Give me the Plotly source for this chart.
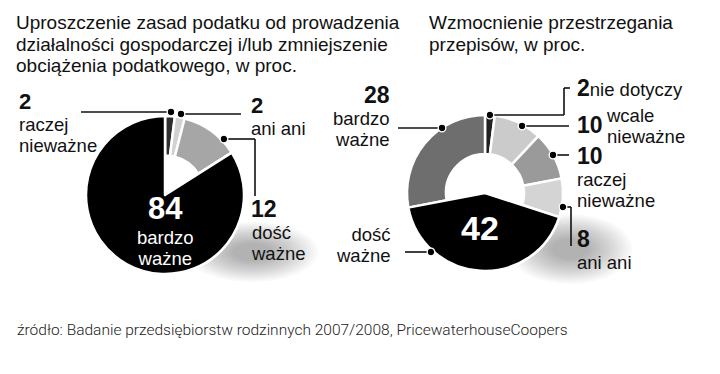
import plotly.graph_objects as go

W, H = 720, 374

# ---- data ----
left_title = ["Uproszczenie zasad podatku od prowadzenia",
              "działalności gospodarczej i/lub zmniejszenie",
              "obciążenia podatkowego, w proc."]
left_labels = ["raczej nieważne", "ani ani", "dość ważne", "bardzo ważne"]
left_values = [2, 2, 12, 84]
left_colors = ["#2e2e2e", "#d2d2d2", "#a6a6a6", "#000000"]

right_title = ["Wzmocnienie przestrzegania", "przepisów, w proc."]
right_labels = ["nie dotyczy", "wcale nieważne", "raczej nieważne", "ani ani",
                "dość ważne", "bardzo ważne"]
right_values = [2, 10, 10, 8, 42, 28]
right_colors = ["#222222", "#cbcbcb", "#9a9a9a", "#d4d4d4", "#000000", "#6e6e6e"]

source = "źródło: Badanie przedsiębiorstw rodzinnych 2007/2008, PricewaterhouseCoopers"

FONT = "'Liberation Sans', Arial, sans-serif"
ASC, DESC = 0.905, 0.212          # Liberation Sans metrics
SRC_FONT = "Roboto, 'Noto Sans', sans-serif"
R_ASC, R_DESC = 0.928, 0.244      # Roboto metrics


def px(x):
    return x / W


def py(y):
    return 1 - y / H


def domain(cx, cy, r):
    return dict(x=[px(cx - r), px(cx + r)], y=[py(cy + r), py(cy - r)])


fig = go.Figure()


def add_pie(values, labels, colors, cx, cy, r, full_idx):
    dom = domain(cx, cy, r)
    fig.add_trace(go.Pie(values=values, labels=labels, sort=False,
                         direction="clockwise", rotation=0, hole=0.5,
                         domain=dom, textinfo="none", hoverinfo="label+value",
                         marker=dict(colors=colors, line=dict(color="white", width=2.5)),
                         showlegend=False))
    cols = [c if i == full_idx else "rgba(0,0,0,0)" for i, c in enumerate(colors)]
    lw = [2.5 if i == full_idx else 0 for i in range(len(colors))]
    fig.add_trace(go.Pie(values=values, labels=labels, sort=False,
                         direction="clockwise", rotation=0, hole=0,
                         domain=dom, textinfo="none", hoverinfo="skip",
                         marker=dict(colors=cols, line=dict(color="white", width=lw)),
                         showlegend=False))


add_pie(left_values, left_labels, left_colors, 157, 187, 79, 3)
add_pie(right_values, right_labels, right_colors, 477, 185, 78, 4)

shapes = []


def shadow(x0, y0, x1, y1, steps=14, alpha=0.022):
    cx, cy = (x0 + x1) / 2, (y0 + y1) / 2
    for k in range(steps):
        f = 1 - k / steps * 0.75
        hx, hy = (x1 - x0) / 2 * f, (y1 - y0) / 2 * f
        shapes.append(dict(type="circle", xref="paper", yref="paper", layer="below",
                           x0=px(cx - hx), x1=px(cx + hx), y0=py(cy + hy), y1=py(cy - hy),
                           fillcolor="rgba(0,0,0,%.3f)" % alpha, line=dict(width=0)))


shadow(178, 214, 310, 274)
shadow(500, 206, 624, 276)


def line(pts):
    for (x0, y0), (x1, y1) in zip(pts[:-1], pts[1:]):
        shapes.append(dict(type="line", xref="paper", yref="paper", layer="above",
                           x0=px(x0), y0=py(y0), x1=px(x1), y1=py(y1),
                           line=dict(color="#111", width=1.6)))


def dot(x, y, r=3.8):
    shapes.append(dict(type="circle", xref="paper", yref="paper", layer="above",
                       x0=px(x - r), x1=px(x + r), y0=py(y + r), y1=py(y - r),
                       fillcolor="#000", line=dict(color="white", width=1.3)))


# left callouts
line([(73, 104), (163, 104)]); dot(163, 104)
line([(173, 106), (233, 106)]); dot(173, 106)
line([(216, 131), (247, 131), (247, 188)]); dot(216, 131)
# right callouts
line([(482, 107), (556, 107), (556, 80), (562, 80)]); dot(482, 107)
line([(514, 118), (561, 118)]); dot(514, 118)
line([(545, 147), (561, 147)]); dot(545, 147)
line([(555, 199), (563, 199), (563, 238)]); dot(555, 199)
line([(390, 120), (434, 120)]); dot(434, 120)
line([(397, 244), (423, 244)]); dot(423, 244)

ann = []
TXT = 18.5
TIT = 19


def block(x, base1, lines, size, spacing=None, anchor="left", color="#111",
          bold=False, family=FONT, asc=ASC, desc=DESC, weight=None):
    """One annotation; base1 = baseline of first line in px."""
    n = len(lines)
    if spacing is None:
        spacing = 1.3 * size
    basesize = spacing / 1.3
    inner = ["<span style='font-size:%.2fpx'>%s</span>" % (size, ("<b>%s</b>" % t) if bold else t)
             for t in lines]
    top = base1 - asc * size
    bottom = base1 + (n - 1) * spacing + desc * size
    yc = (top + bottom) / 2
    ann.append(dict(x=px(x), y=py(yc), xref="paper", yref="paper",
                    text="<br>".join(inner), showarrow=False,
                    xanchor=anchor, yanchor="middle", align=anchor,
                    font=dict(family=family, size=basesize, color=color,
                              weight=weight if weight else (700 if bold else 400))))


# titles
block(6, 21, left_title, TIT, spacing=21.5)
block(419, 21, right_title, TIT, spacing=22)

# left labels
block(9, 101, [str(left_values[0])], 22, bold=True)
block(9, 123.5, ["raczej", "nieważne"], TXT, spacing=20.8)
block(241, 105, [str(left_values[1])], 22, bold=True)
block(241, 127, ["ani ani"], TXT)
block(241, 209, [str(left_values[2])], 23, bold=True)
block(241, 231, ["dość", "ważne"], TXT, spacing=21)
block(157, 211, [str(left_values[3])], 31, anchor="center", color="white", bold=True)
block(157, 236, ["bardzo", "ważne"], TXT, spacing=20.5, anchor="center", color="white")

# right labels
block(384, 95, [str(right_values[5])], 23, anchor="right", bold=True)
block(384, 117, ["bardzo", "ważne"], TXT, spacing=20.5, anchor="right")
block(384, 233, ["dość", "ważne"], TXT, spacing=21, anchor="right")
ann.append(dict(x=px(567), y=py(88 - (ASC - DESC) / 2 * 23), xref="paper", yref="paper",
                text="<span style='font-size:23px'><b>%d</b></span>nie dotyczy" % right_values[0],
                showarrow=False, xanchor="left", yanchor="middle",
                font=dict(family=FONT, size=TXT, color="#111")))
block(567, 125, [str(right_values[1])], 23, bold=True)
block(596, 114, ["wcale", "nieważne"], TXT, spacing=21)
block(567, 156, [str(right_values[2])], 23, bold=True)
block(567, 178, ["raczej", "nieważne"], TXT, spacing=20.5)
block(567, 239, [str(right_values[3])], 23, bold=True)
block(567, 261, ["ani ani"], TXT)
block(472, 232, [str(right_values[4])], 34, anchor="center", color="white", bold=True)

# source
block(7, 327, [source], 15.5, color="#222", family=SRC_FONT, asc=R_ASC, desc=R_DESC,
      weight=300)

fig.update_layout(width=W, height=H, margin=dict(l=0, r=0, t=0, b=0),
                  paper_bgcolor="white", plot_bgcolor="white",
                  shapes=shapes, annotations=ann, showlegend=False)

fig.write_html("out.html")
